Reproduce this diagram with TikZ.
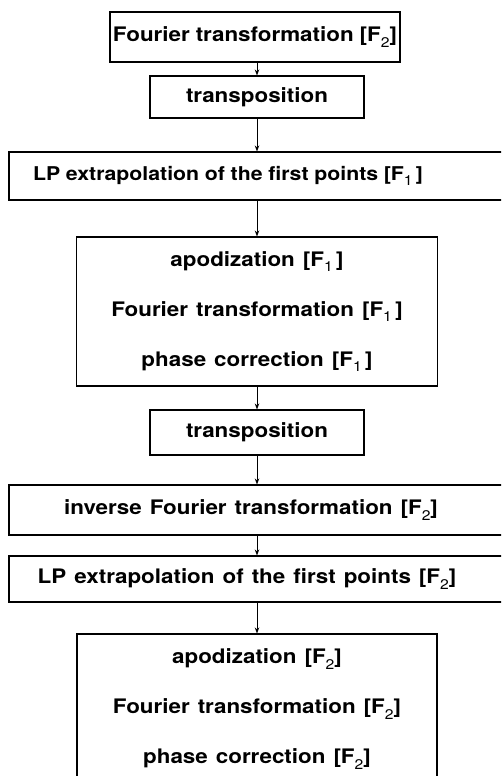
\documentclass[tikz,border=0pt]{standalone}
\usepackage{fontspec}
\setmainfont{TeX Gyre Heros}[FakeStretch=1.12]
\usetikzlibrary{arrows.meta}
\newcommand{\subd}[1]{\raisebox{-0.5ex}{\fontsize{14}{14}\selectfont\mdseries #1}}
\newcommand{\widesp}{\spaceskip=0.4em plus 0.1em\relax}
\newcommand{\narrowsp}{\spaceskip=0.3em plus 0.1em\relax}
\tikzset{
  frame/.style={draw, line width=1.1pt, inner sep=0pt},
  stepbox/.style={frame, align=center,
    font=\fontsize{20}{50}\selectfont\bfseries, execute at begin node=\widesp},
  steptext/.style={inner sep=0pt, align=center,
    font=\fontsize{20}{50}\selectfont\bfseries, execute at begin node=\widesp},
  flow/.style={line width=0.8pt, -{Stealth[length=6pt,width=4.5pt]}}
}
\begin{document}
\begin{tikzpicture}[x=1pt,y=-1pt]
\useasboundingbox (0,0) rectangle (501,776);
\clip (0,0) rectangle (501,776);
\node[frame, minimum width=290pt, minimum height=50pt] (b1) at (255,37) {};
\node[steptext, execute at begin node=\narrowsp] (t1) at (255,37) {Fourier transformation [F\subd{2}]};
\node[stepbox, minimum width=214pt, minimum height=42pt] (b2) at (257,97) {transposition};
\node[frame, minimum width=496pt, minimum height=48pt] (b3) at (257,176) {};
\node[steptext, font=\fontsize{19}{50}\selectfont\bfseries, execute at begin node=\narrowsp] (t3) at (228,176) {LP extrapolation of the first points [F\subd{1}\,]};
\node[stepbox, minimum width=361pt, minimum height=149pt] (b4) at (257,311.5) {apodization [F\subd{1}\,]\\Fourier transformation [F\subd{1}\,]\\phase correction [F\subd{1}\,]};
\node[stepbox, minimum width=214pt, minimum height=45pt] (b5) at (257,432.5) {transposition};
\node[frame, minimum width=496pt, minimum height=50pt] (b6) at (257,510) {};
\node[steptext] (t6) at (251,510) {inverse Fourier transformation [F\subd{2}]};
\node[frame, minimum width=496pt, minimum height=46pt] (b7) at (257,579) {};
\node[steptext] (t7) at (247,579) {LP extrapolation of the first points [F\subd{2}]};
\node[stepbox, minimum width=360pt, minimum height=150pt] (b8) at (257,709) {apodization [F\subd{2}]\\Fourier transformation [F\subd{2}]\\phase correction [F\subd{2}]};
\draw[flow] (b1.south -| b2.north) -- (b2.north);
\draw[flow] (b2) -- (b3);
\draw[flow] (b3) -- (b4);
\draw[flow] (b4) -- (b5);
\draw[flow] (b5) -- (b6);
\draw[flow] (b6) -- (b7);
\draw[flow] (b7) -- (b8);
\end{tikzpicture}
\end{document}
